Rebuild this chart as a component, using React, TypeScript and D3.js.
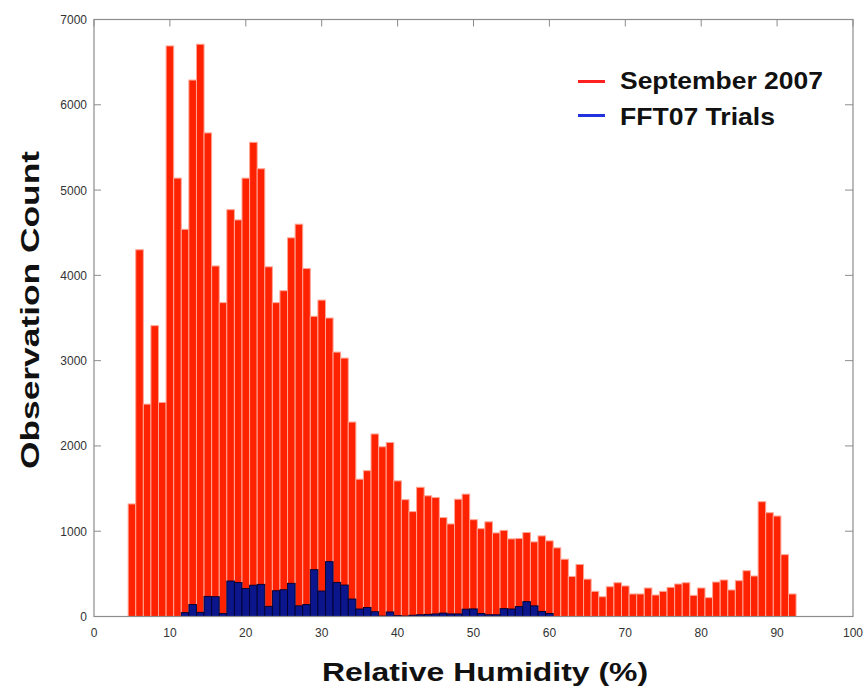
import React from "react";
import * as d3 from "d3";

// Bin centres (relative humidity, %) and counts
const redBins = d3.range(5, 93);
const redCounts = [
  1320, 4300, 2490, 3410, 2510, 6690, 5140, 4540, 6290, 6710, 5670, 4110, 3680, 4770, 4650, 5140,
  5560, 5250, 4100, 3680, 3820, 4440, 4600, 4080, 3520, 3710, 3500, 3100, 3030, 2280, 1610, 1710,
  2140, 1990, 2040, 1590, 1370, 1230, 1515, 1415, 1395, 1160, 1085, 1375, 1435, 1135, 1030, 1110,
  980, 1010, 910, 915, 985, 875, 945, 887, 805, 672, 470, 610, 438, 295, 232, 349,
  396, 358, 264, 264, 334, 252, 295, 342, 381, 396, 248, 334, 221, 404, 428, 311,
  420, 537, 475, 1346, 1217, 1178, 725, 264,
];
const blueBins = d3.range(12, 61);
const blueCounts = [
  45, 140, 49, 236, 232, 34, 416, 398, 328, 367, 377, 119, 302, 314, 389, 125,
  140, 549, 299, 643, 400, 369, 205, 88, 105, 56, 5, 53, 10, 5, 15, 20,
  25, 30, 40, 30, 30, 86, 89, 35, 20, 20, 92, 88, 116, 174, 125, 60, 36,
];
const xTicks = [0, 10, 20, 30, 40, 50, 60, 70, 80, 90, 100];
const yTicks = [0, 1000, 2000, 3000, 4000, 5000, 6000, 7000];
const seriesNames = ["September 2007", "FFT07 Trials"];

export default function App() {
  const W = 867;
  const H = 689;
  const x = d3.scaleLinear().domain([0, 100]).range([94, 853]);
  const y = d3.scaleLinear().domain([0, 7000]).range([616.5, 19.5]);
  const [x0, x1] = x.range();
  const [y0, y1] = y.range();
  const font = "'Liberation Sans', Arial, Helvetica, sans-serif";
  const axisColor = "#8c8c8c";

  return (
    <svg
      width={W}
      height={H}
      style={{ position: "absolute", left: 0, top: 0, background: "#fff" }}
      fontFamily={font}
    >
      <rect x={0} y={0} width={W} height={H} fill="#fff" />
      {/* red bars */}
      {redBins.map((b, i) => (
        <rect
          key={"r" + b}
          x={x(b - 0.5)}
          y={y(redCounts[i])}
          width={x(b + 0.5) - x(b - 0.5)}
          height={y0 - y(redCounts[i])}
          fill="#ff2200"
          stroke="#ffa595"
          strokeWidth={1}
        />
      ))}
      {/* blue bars */}
      {blueBins.map((b, i) => (
        <rect
          key={"b" + b}
          x={x(b - 0.5)}
          y={y(blueCounts[i])}
          width={x(b + 0.5) - x(b - 0.5)}
          height={y0 - y(blueCounts[i])}
          fill="#0b168c"
          stroke="#00002e"
          strokeWidth={0.9}
        />
      ))}
      {/* frame */}
      <rect x={x0} y={y1} width={x1 - x0} height={y0 - y1} fill="none" stroke={axisColor} strokeWidth={1.2} />
      {/* x ticks */}
      {xTicks.map((t) => (
        <g key={"xt" + t}>
          <line x1={x(t)} x2={x(t)} y1={y1} y2={y1 + 7} stroke={axisColor} strokeWidth={1} />
          <text x={x(t)} y={y0 + 20} textAnchor="middle" fontSize={12} fill="#333">
            {t}
          </text>
        </g>
      ))}
      {/* y ticks */}
      {yTicks.map((t) => (
        <g key={"yt" + t}>
          <line x1={x0} x2={x0 + 7} y1={y(t)} y2={y(t)} stroke={axisColor} strokeWidth={1} />
          <line x1={x1} x2={x1 - 8} y1={y(t)} y2={y(t)} stroke={axisColor} strokeWidth={1} />
          <text x={x0 - 7} y={y(t) + 4.5} textAnchor="end" fontSize={12} fill="#333">
            {t}
          </text>
        </g>
      ))}
      {/* axis labels */}
      <text
        x={485}
        y={681}
        textAnchor="middle"
        fontSize={26}
        fontWeight="bold"
        fill="#111"
        textLength={326}
        lengthAdjust="spacingAndGlyphs"
      >
        Relative Humidity (%)
      </text>
      <text
        transform={`translate(39,310) rotate(-90)`}
        textAnchor="middle"
        fontSize={26}
        fontWeight="bold"
        fill="#111"
        textLength={318}
        lengthAdjust="spacingAndGlyphs"
      >
        Observation Count
      </text>
      {/* legend */}
      <line x1={578} x2={605} y1={81.5} y2={81.5} stroke="#ff2020" strokeWidth={3} />
      <text x={620} y={89} fontSize={24} fontWeight="bold" fill="#111" textLength={203} lengthAdjust="spacingAndGlyphs">
        {seriesNames[0]}
      </text>
      <line x1={578} x2={605} y1={115.5} y2={115.5} stroke="#2233dd" strokeWidth={3} />
      <text x={620} y={125} fontSize={24} fontWeight="bold" fill="#111" textLength={155} lengthAdjust="spacingAndGlyphs">
        {seriesNames[1]}
      </text>
    </svg>
  );
}
